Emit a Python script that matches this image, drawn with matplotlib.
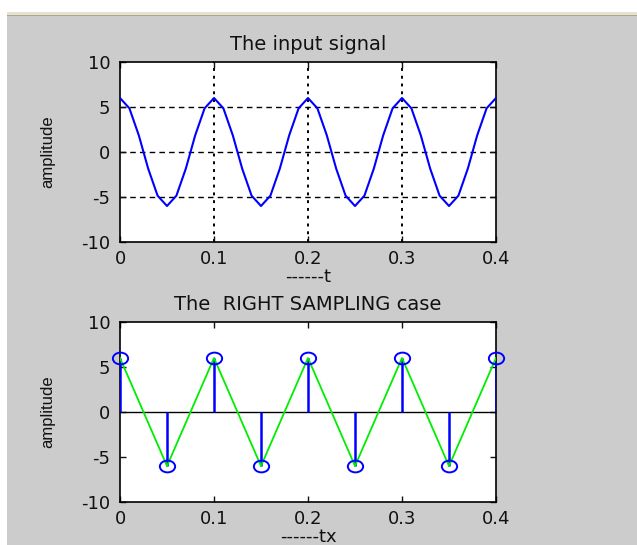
import numpy as np
import matplotlib
matplotlib.use("Agg")
import matplotlib.pyplot as plt
from matplotlib.patches import Rectangle
from matplotlib.path import Path
from matplotlib.transforms import Affine2D

# Input signal: 6*cos(2*pi*10*t), computed on a 0.01 s grid
amp = 6
f0 = 10
t = np.arange(0, 0.4 + 1e-9, 0.01)
x = amp * np.cos(2 * np.pi * f0 * t)

# Sampled version at 20 Hz
tx = np.arange(0, 0.4 + 1e-9, 0.05)
xs = amp * np.cos(2 * np.pi * f0 * tx)

xticks = [0, 0.1, 0.2, 0.3, 0.4]
xticklabels = ["0", "0.1", "0.2", "0.3", "0.4"]
yticks = [-10, -5, 0, 5, 10]
yticklabels = ["-10", "-5", "0", "5", "10"]

W, H = 637, 545
fig = plt.figure(figsize=(W / 100, H / 100), dpi=100, facecolor="#cccccc")

# window frame strips
fig.patches.append(Rectangle((0, 0), 7 / W, 1, transform=fig.transFigure,
                             facecolor="white", edgecolor="none", zorder=-5))
fig.patches.append(Rectangle((0, 1 - 12 / H), 1, 12 / H, transform=fig.transFigure,
                             facecolor="white", edgecolor="none", zorder=-5))
fig.patches.append(Rectangle((7 / W, 1 - 15 / H), 1, 3 / H, transform=fig.transFigure,
                             facecolor="#e6e2d2", edgecolor="none", zorder=-4))
fig.patches.append(Rectangle((7 / W, 1 - 16 / H), 1, 1.2 / H, transform=fig.transFigure,
                             facecolor="#aaa690", edgecolor="none", zorder=-4))

plt.rcParams["font.family"] = ["DejaVu Sans"]
LABEL_FONT = ["Liberation Sans", "DejaVu Sans"]

# slightly wide ellipse used as the stem head marker
oval = Path.unit_circle().transformed(Affine2D().scale(1.3, 1.0))


def ax_rect(left, top, right, bottom):
    return [left / W, 1 - bottom / H, (right - left) / W, (bottom - top) / H]


def style(ax):
    ax.set_xlim(0, 0.4)
    ax.set_ylim(-10, 10)
    ax.set_xticks(xticks)
    ax.set_xticklabels(xticklabels)
    ax.set_yticks(yticks)
    ax.set_yticklabels(yticklabels)
    ax.tick_params(direction="in", length=4, width=1, top=True, right=True,
                   labelsize=13, colors="#111111")
    ax.tick_params(axis="x", pad=6)
    ax.tick_params(axis="y", pad=7)
    for s in ax.spines.values():
        s.set_linewidth(1.2)
        s.set_color("black")
    ax.set_facecolor("white")
    ax.set_ylabel("amplitude", fontsize=12, family=LABEL_FONT, labelpad=19,
                  color="#111111")


ax1 = fig.add_axes(ax_rect(120, 62, 496, 242))
style(ax1)
for xv in xticks[1:-1]:
    ax1.axvline(xv, color="black", linestyle=(0, (1.5, 2.5)), linewidth=1.4, zorder=1)
for yv in yticks[1:-1]:
    ax1.axhline(yv, color="black", linestyle=(0, (4, 3)), linewidth=1.0, zorder=1)
ax1.plot(t, x, color="#0000ff", linewidth=1.5, zorder=3)
ax1.set_title("The input signal", fontsize=14, pad=9, color="#111111")
ax1.set_xlabel("------t", fontsize=13, labelpad=0, color="#111111")

ax2 = fig.add_axes(ax_rect(120, 322, 496, 502))
style(ax2)
ax2.axhline(0, color="black", linewidth=1.0, zorder=2)
ax2.vlines(tx, 0, xs, color="#0000ff", linewidth=1.8, zorder=3)
ax2.plot(tx, xs, color="#00ee00", linewidth=1.3, zorder=4)
ax2.plot(tx, xs, linestyle="none", marker=oval, markersize=11,
         markerfacecolor="none", markeredgecolor="#0000ff", markeredgewidth=1.4,
         zorder=5, clip_on=False)
ax2.set_title("The  RIGHT SAMPLING case", fontsize=14, pad=9, color="#111111")
ax2.set_xlabel("------tx", fontsize=13, labelpad=0, color="#111111")

fig.savefig("out.png", dpi=100, facecolor=fig.get_facecolor())
